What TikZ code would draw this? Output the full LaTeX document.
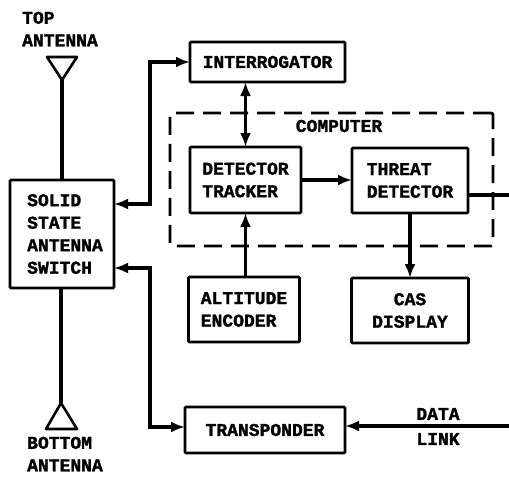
\documentclass[tikz,border=0pt]{standalone}
\usepackage{fontspec}
\setmonofont[BoldFeatures={FakeBold=1.6}]{Liberation Mono}
\usetikzlibrary{arrows.meta}
\tikzset{
    blockbox/.style={draw, line width=2.6pt, rounded corners=1pt, outer sep=0pt, align=left},
    conn/.style={line width=3.2pt, -{Latex[length=14pt,width=11pt]}},
    biconn/.style={line width=3.2pt, {Latex[length=14pt,width=11pt]}-{Latex[length=14pt,width=11pt]}},
    plainconn/.style={line width=3.2pt},
    caption/.style={align=left, inner sep=0pt}
}
\begin{document}
\begin{tikzpicture}[x=1pt, y=-1pt, font=\ttfamily\bfseries\fontsize{18}{22.5}\selectfont]
    \useasboundingbox (0,0) rectangle (509,477);

    % Computer boundary (dashed)
    \node[draw, line width=2.8pt, dash pattern=on 18pt off 9pt, rounded corners=2pt,
          minimum width=323pt, minimum height=133pt] (computer) at (331.5,179.5) {};
    \node[inner sep=0pt] (computerlabel) at (339,126) {COMPUTER};

    % Blocks
    \node[blockbox, minimum width=104pt, minimum height=108pt] (switch) at (62,234) {};
    \node[caption] (switchlabel) at (65,234) {SOLID\\STATE\\ANTENNA\\SWITCH};
    \node[blockbox, minimum width=155pt, minimum height=40pt] (interrogator) at (267.5,62) {INTERROGATOR};
    \node[blockbox, minimum width=111pt, minimum height=66pt] (tracker) at (245.5,180) {DETECTOR\\TRACKER};
    \node[blockbox, minimum width=116pt, minimum height=65pt] (threat) at (410,180.5) {THREAT\\DETECTOR};
    \node[blockbox, minimum width=111pt, minimum height=65pt] (altitude) at (244,309.5) {ALTITUDE\\ENCODER};
    \node[blockbox, align=center, minimum width=117pt, minimum height=65pt] (display) at (410,310.5) {CAS\\DISPLAY};
    \node[blockbox, minimum width=160pt, minimum height=46pt] (transponder) at (265,430) {TRANSPONDER};

    % Antennas
    \coordinate (topant) at (62,80);
    \coordinate (botant) at (61,403);
    \draw[line width=2.6pt, line join=round] (47,57) -- (77,57) -- (topant) -- cycle;
    \draw[line width=2.6pt, line join=round] (46,429) -- (77,429) -- (botant) -- cycle;
    \node[caption] (toplabel) at (60,29) {TOP\\ANTENNA};
    \node[caption] (botlabel) at (65,454) {BOTTOM\\ANTENNA};
    \draw[plainconn] (topant) -- (topant |- switch.north);
    \draw[plainconn] (botant) -- (botant |- switch.south);

    % Free end of the output and the data link
    \coordinate (threatout) at (509,195);
    \coordinate (linkin) at (509,426);
    \node[inner sep=0pt] (datalabel) at (438,414) {DATA};
    \node[inner sep=0pt] (linklabel) at (438,439) {LINK};

    % Connections
    \draw[biconn] ([yshift=30pt]switch.east) -| (150,62) -- (interrogator.west);
    \draw[biconn] ([yshift=-34pt]switch.east) -| (150,427) -- ([yshift=3pt]transponder.west);
    \draw[biconn] (tracker.north) -- (tracker.north |- interrogator.south);
    \draw[conn] (tracker.north |- altitude.north) -- (tracker.south);
    \draw[conn] (tracker.east) -- (threat.west |- tracker.east);
    \draw[conn] (threat.south) -- (threat.south |- display.north);
    \draw[plainconn] (threat.east |- threatout) -- (threatout);
    \draw[conn] (linkin) -- (transponder.east |- linkin);
\end{tikzpicture}
\end{document}
